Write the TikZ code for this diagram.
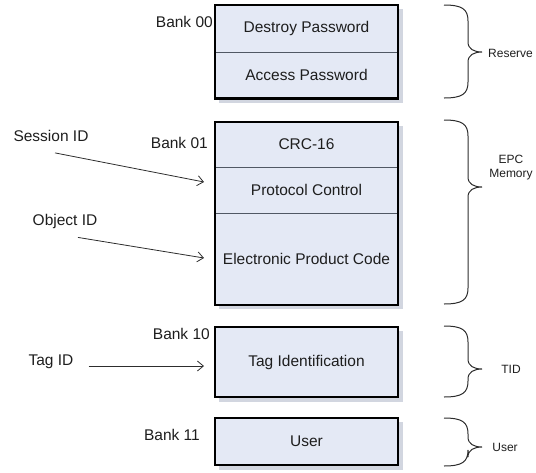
\documentclass[tikz,border=0pt]{standalone}
\usepackage{fontspec}
\setmainfont{Liberation Sans}
\usetikzlibrary{arrows.meta,positioning,calc}
\definecolor{fieldblue}{RGB}{228,233,245}
\definecolor{shadowgray}{RGB}{210,214,224}
\definecolor{divgray}{RGB}{80,88,100}
\definecolor{linegray}{RGB}{45,45,45}
\definecolor{txtgray}{RGB}{30,30,30}

% curly brace on the right: top, tip, bottom (y in px)
\newcommand{\membrace}[3]{%
  \draw[brace] (444,#1) .. controls (462,#1) and (468,#1+4) .. (468,#1+16)
    -- (468,#2-10) .. controls (468,#2-3) and (474,#2) .. (482,#2)
    .. controls (474,#2) and (468,#2+3) .. (468,#2+10)
    -- (468,#3-16) .. controls (468,#3-4) and (462,#3) .. (444,#3);}

\begin{document}
\begin{tikzpicture}[x=1pt,y=-1pt]
\tikzset{
    field/.style={rectangle,fill=fieldblue,minimum width=183pt,inner sep=0pt,
      font=\fontsize{15.5}{18}\selectfont,text=txtgray},
    lbl/.style={inner sep=0pt,font=\fontsize{15.5}{18}\selectfont,text=txtgray},
    side/.style={inner sep=0pt,align=center,font=\fontsize{12}{14}\selectfont,text=txtgray},
    bank/.style={draw=black,line width=2.4pt},
    divider/.style={draw=divgray,line width=1.2pt},
    link/.style={-{Straight Barb[length=6pt,width=10pt]},draw=linegray,line width=0.8pt},
    brace/.style={draw=linegray,line width=1pt}
}
\useasboundingbox (0,0) rectangle (536,472);
% shadows
\fill[shadowgray] (219,9) rectangle (403,103);
\fill[shadowgray] (219,126) rectangle (403,309);
\fill[shadowgray] (219,331) rectangle (403,402);
\fill[shadowgray] (219,422) rectangle (403,470);
% bank 00
\node[field,minimum height=47pt] (destroy) at (306.5,28.5) {Destroy Password};
\node[field,minimum height=46pt,below=0pt of destroy] (access) {Access Password};
% bank 01
\node[field,minimum height=45pt] (crc) at (306.5,144.5) {CRC-16};
\node[field,minimum height=46pt,below=0pt of crc] (protocol) {Protocol Control};
\node[field,minimum height=91pt,below=0pt of protocol] (epc) {Electronic Product Code};
% bank 10, bank 11
\node[field,minimum height=70pt] (tagid) at (306.5,362) {Tag Identification};
\node[field,minimum height=47pt] (user) at (306.5,441.5) {User};
% dividers
\draw[divider] (destroy.south west) -- (destroy.south east);
\draw[divider] (crc.south west) -- (crc.south east);
\draw[divider] (protocol.south west) -- (protocol.south east);
% outlines
\draw[bank] (destroy.north west) rectangle (access.south east);
\draw[bank] (crc.north west) rectangle (epc.south east);
\draw[bank] (tagid.north west) rectangle (tagid.south east);
\draw[bank] (user.north west) rectangle (user.south east);
% bank labels
\node[lbl,anchor=east] (bank00) at (213,22) {Bank 00};
\node[lbl,anchor=east] (bank01) at (208,143) {Bank 01};
\node[lbl,anchor=east] (bank10) at (210,334) {Bank 10};
\node[lbl,anchor=east] (bank11) at (200,435) {Bank 11};
% inputs
\node[lbl] (sessid) at (51,136) {Session ID};
\node[lbl] (objid) at (65,221) {Object ID};
\node[lbl] (tagin) at (51,362) {Tag ID};
\coordinate (sesstip) at (204,182);
\coordinate (objtip) at (204,258);
\coordinate (tagtip) at (204,366);
\draw[link] ($(sessid.south)+(4,11)$) -- (sesstip);
\draw[link] ($(objid.south)+(13,9)$) -- (objtip);
\draw[link] ($(tagin.east)+(15,4)$) -- (tagtip);
% braces
\membrace{5}{52}{98}
\membrace{120}{187}{304}
\membrace{326}{369}{397}
\membrace{418}{447}{466}
\node[side,anchor=west] (reserve) at (488,53) {Reserve};
\node[side] (epcmem) at (511,168) {EPC\\Memory};
\node[side] (tid) at (511,369) {TID};
\node[side] (usr) at (505,447) {User};
\end{tikzpicture}
\end{document}
